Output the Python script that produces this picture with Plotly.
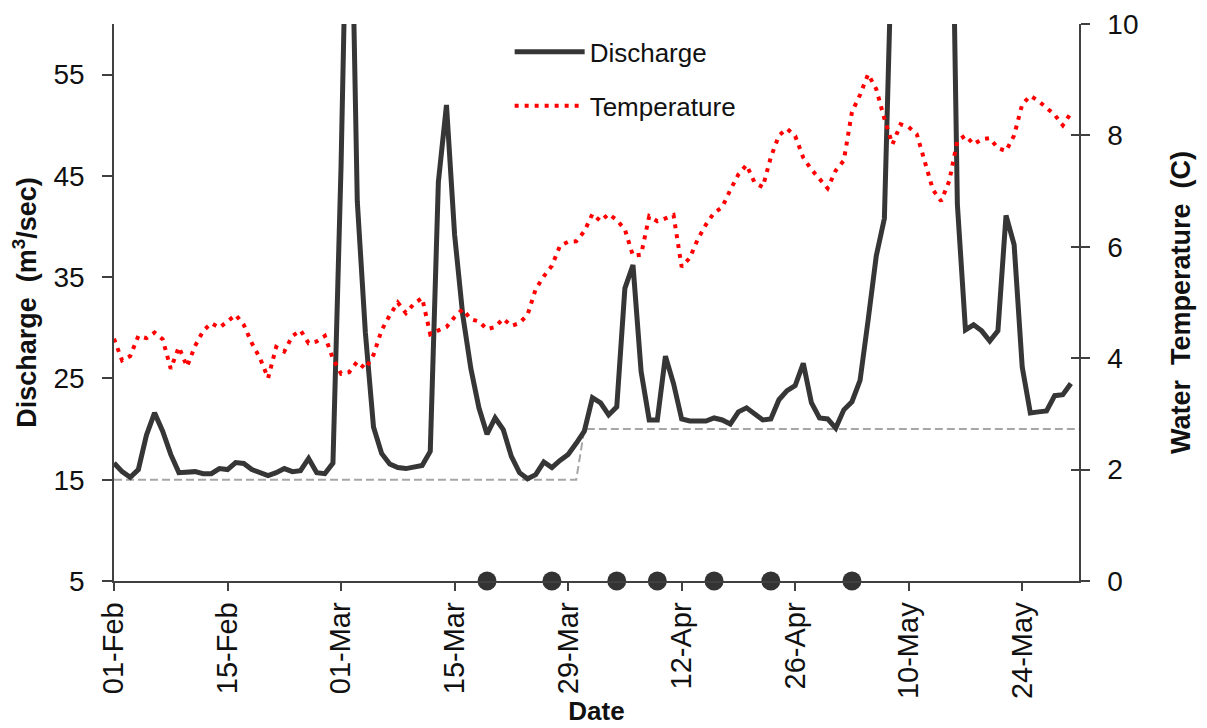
import pandas as pd
import plotly.graph_objects as go

# ---------------- data ----------------
start_date = "2013-02-01"
end_date = "2013-05-31"

# daily discharge (m3/sec), 01-Feb onwards
discharge = [
    16.65, 15.8, 15.25, 16.0, 19.4, 21.6, 19.8, 17.5, 15.7, 15.8,
    15.8, 15.6, 15.6, 16.1, 16.0, 16.7, 16.6, 16.0, 15.7, 15.4,
    15.7, 16.1, 15.8, 15.9, 17.1, 15.7, 15.6, 16.65, 46.0, 85.0,
    42.5, 29.5, 20.2, 17.6, 16.55, 16.2, 16.1, 16.2, 16.4, 17.8,
    44.4, 52.0, 39.2, 31.3, 26.0, 22.1, 19.5, 21.1, 19.95, 17.3,
    15.7, 15.1, 15.5, 16.75, 16.2, 16.9, 17.5, 18.6, 19.8, 23.1,
    22.6, 21.4, 22.2, 33.9, 36.2, 25.7, 20.9, 20.9, 27.2, 24.5,
    21.0, 20.8, 20.8, 20.8, 21.1, 20.9, 20.5, 21.7, 22.1, 21.5,
    20.9, 21.0, 22.9, 23.8, 24.3, 26.5, 22.6, 21.1, 21.0, 20.1,
    21.9, 22.7, 24.8, 30.8, 37.1, 40.8, 111.0, 125.0, 130.0, 120.0,
    105.0, 100.0, 98.0, 93.0, 42.2, 29.8, 30.3, 29.7, 28.7, 29.7,
    41.1, 38.2, 26.1, 21.6, 21.7, 21.8, 23.3, 23.4, 24.5,
]

# daily water temperature (C)
temperature = [
    4.35, 3.96, 4.04, 4.40, 4.36, 4.46, 4.34, 3.81, 4.20, 3.85,
    4.22, 4.49, 4.63, 4.55, 4.66, 4.78, 4.60, 4.27, 4.00, 3.64,
    4.20, 4.12, 4.40, 4.50, 4.27, 4.30, 4.40, 3.99, 3.72, 3.75,
    3.94, 3.81, 4.06, 4.50, 4.77, 5.00, 4.81, 4.98, 5.08, 4.43,
    4.50, 4.56, 4.74, 4.88, 4.70, 4.66, 4.52, 4.56, 4.71, 4.58,
    4.63, 4.78, 5.24, 5.47, 5.66, 6.02, 6.09, 6.10, 6.28, 6.59,
    6.46, 6.59, 6.48, 6.31, 5.84, 5.86, 6.55, 6.46, 6.51, 6.57,
    5.64, 5.80, 6.14, 6.40, 6.61, 6.71, 7.02, 7.30, 7.47, 7.15,
    7.07, 7.61, 8.00, 8.12, 7.99, 7.60, 7.39, 7.22, 7.05, 7.37,
    7.55, 8.42, 8.73, 9.10, 8.83, 8.30, 7.84, 8.20, 8.15, 8.02,
    7.52, 7.02, 6.82, 7.18, 7.90, 8.00, 7.84, 7.93, 7.95, 7.77,
    7.72, 8.00, 8.56, 8.71, 8.62, 8.50, 8.37, 8.18, 8.40,
]

# flow threshold (dashed grey)
threshold_dates = ["2013-02-01", "2013-03-30", "2013-03-31", "2013-05-31"]
threshold_values = [15, 15, 20, 20]

# sampling dates (black dots on the axis)
sample_dates = ["2013-03-19", "2013-03-27", "2013-04-04", "2013-04-09",
                "2013-04-16", "2013-04-23", "2013-05-03"]
sample_values = [0, 0, 0, 0, 0, 0, 0]

left_ticks = [5, 15, 25, 35, 45, 55]
right_ticks = [0, 2, 4, 6, 8, 10]

dates = pd.date_range(start_date, periods=len(discharge), freq="D")

FONT = "Liberation Sans, Arial, sans-serif"
AXIS_COLOR = "#404040"

fig = go.Figure()

fig.add_trace(go.Scatter(
    x=threshold_dates, y=threshold_values, mode="lines", yaxis="y",
    line=dict(color="#a6a6a6", width=2, dash="8px,4px"),
    showlegend=False, hoverinfo="skip",
))

fig.add_trace(go.Scatter(
    x=dates, y=discharge, mode="lines", name="Discharge", yaxis="y",
    line=dict(color="#363636", width=5),
    legendgroup="g1",
))

fig.add_trace(go.Scatter(
    x=dates, y=temperature, mode="lines", name="Temperature", yaxis="y2",
    line=dict(color="#ff0000", width=4, dash="4px,6px"),
    legendgroup="g2",
))

fig.add_trace(go.Scatter(
    x=sample_dates, y=sample_values, mode="markers", yaxis="y3",
    marker=dict(color="#333333", size=19, line=dict(width=0)),
    cliponaxis=False, showlegend=False,
))

fig.update_layout(
    width=1207, height=728,
    paper_bgcolor="white", plot_bgcolor="white",
    margin=dict(l=106, r=136, t=16, b=155, autoexpand=False),
    font=dict(family=FONT, size=28, color="#111111"),
    xaxis=dict(
        type="date", range=[start_date, end_date], automargin=False,
        tick0=start_date, dtick=14 * 86400000, tickformat="%d-%b",
        tickangle=-90, ticks="outside", ticklen=8, tickwidth=1.5,
        tickcolor=AXIS_COLOR, showline=True, linecolor=AXIS_COLOR,
        linewidth=1.5, showgrid=False, zeroline=False,
        tickfont=dict(size=29),
        title=dict(text="<b>Date</b>", font=dict(size=26), standoff=4),
    ),
    yaxis=dict(
        range=[5, 60], tickvals=left_ticks, ticks="outside", ticklen=10,
        automargin=False,
        tickwidth=1.5, tickcolor=AXIS_COLOR, showline=True,
        linecolor=AXIS_COLOR, linewidth=1.5, showgrid=False, zeroline=False,
        tickfont=dict(size=28), ticklabelstandoff=12,
        ticklabeloverflow="allow",
        title=dict(text="<b>Discharge\u00a0 (m<sup>3</sup>/sec)</b>",
                   font=dict(size=27), standoff=14),
    ),
    yaxis2=dict(
        range=[0, 10], tickvals=right_ticks, overlaying="y", side="right",
        automargin=False,
        ticks="outside", ticklen=9, tickwidth=1.5, tickcolor=AXIS_COLOR,
        showline=True, linecolor=AXIS_COLOR, linewidth=1.5,
        showgrid=False, zeroline=False, tickfont=dict(size=28),
        ticklabelstandoff=12, ticklabeloverflow="allow",
        title=dict(text="<b>Water\u00a0 Temperature\u00a0 (C)</b>",
                   font=dict(size=27), standoff=34),
    ),
    yaxis3=dict(
        range=[0, 10], tickvals=right_ticks, overlaying="y", side="right",
        automargin=False,
        ticks="inside", ticklen=8, tickwidth=1.5, tickcolor=AXIS_COLOR,
        showline=False, showgrid=False, zeroline=False,
        showticklabels=False,
    ),
    legend=dict(
        x=0.41, y=0.992, xanchor="left", yanchor="top",
        bgcolor="rgba(0,0,0,0)", font=dict(size=26),
        tracegroupgap=17, itemwidth=70,
    ),
)

fig.write_html("out.html")
